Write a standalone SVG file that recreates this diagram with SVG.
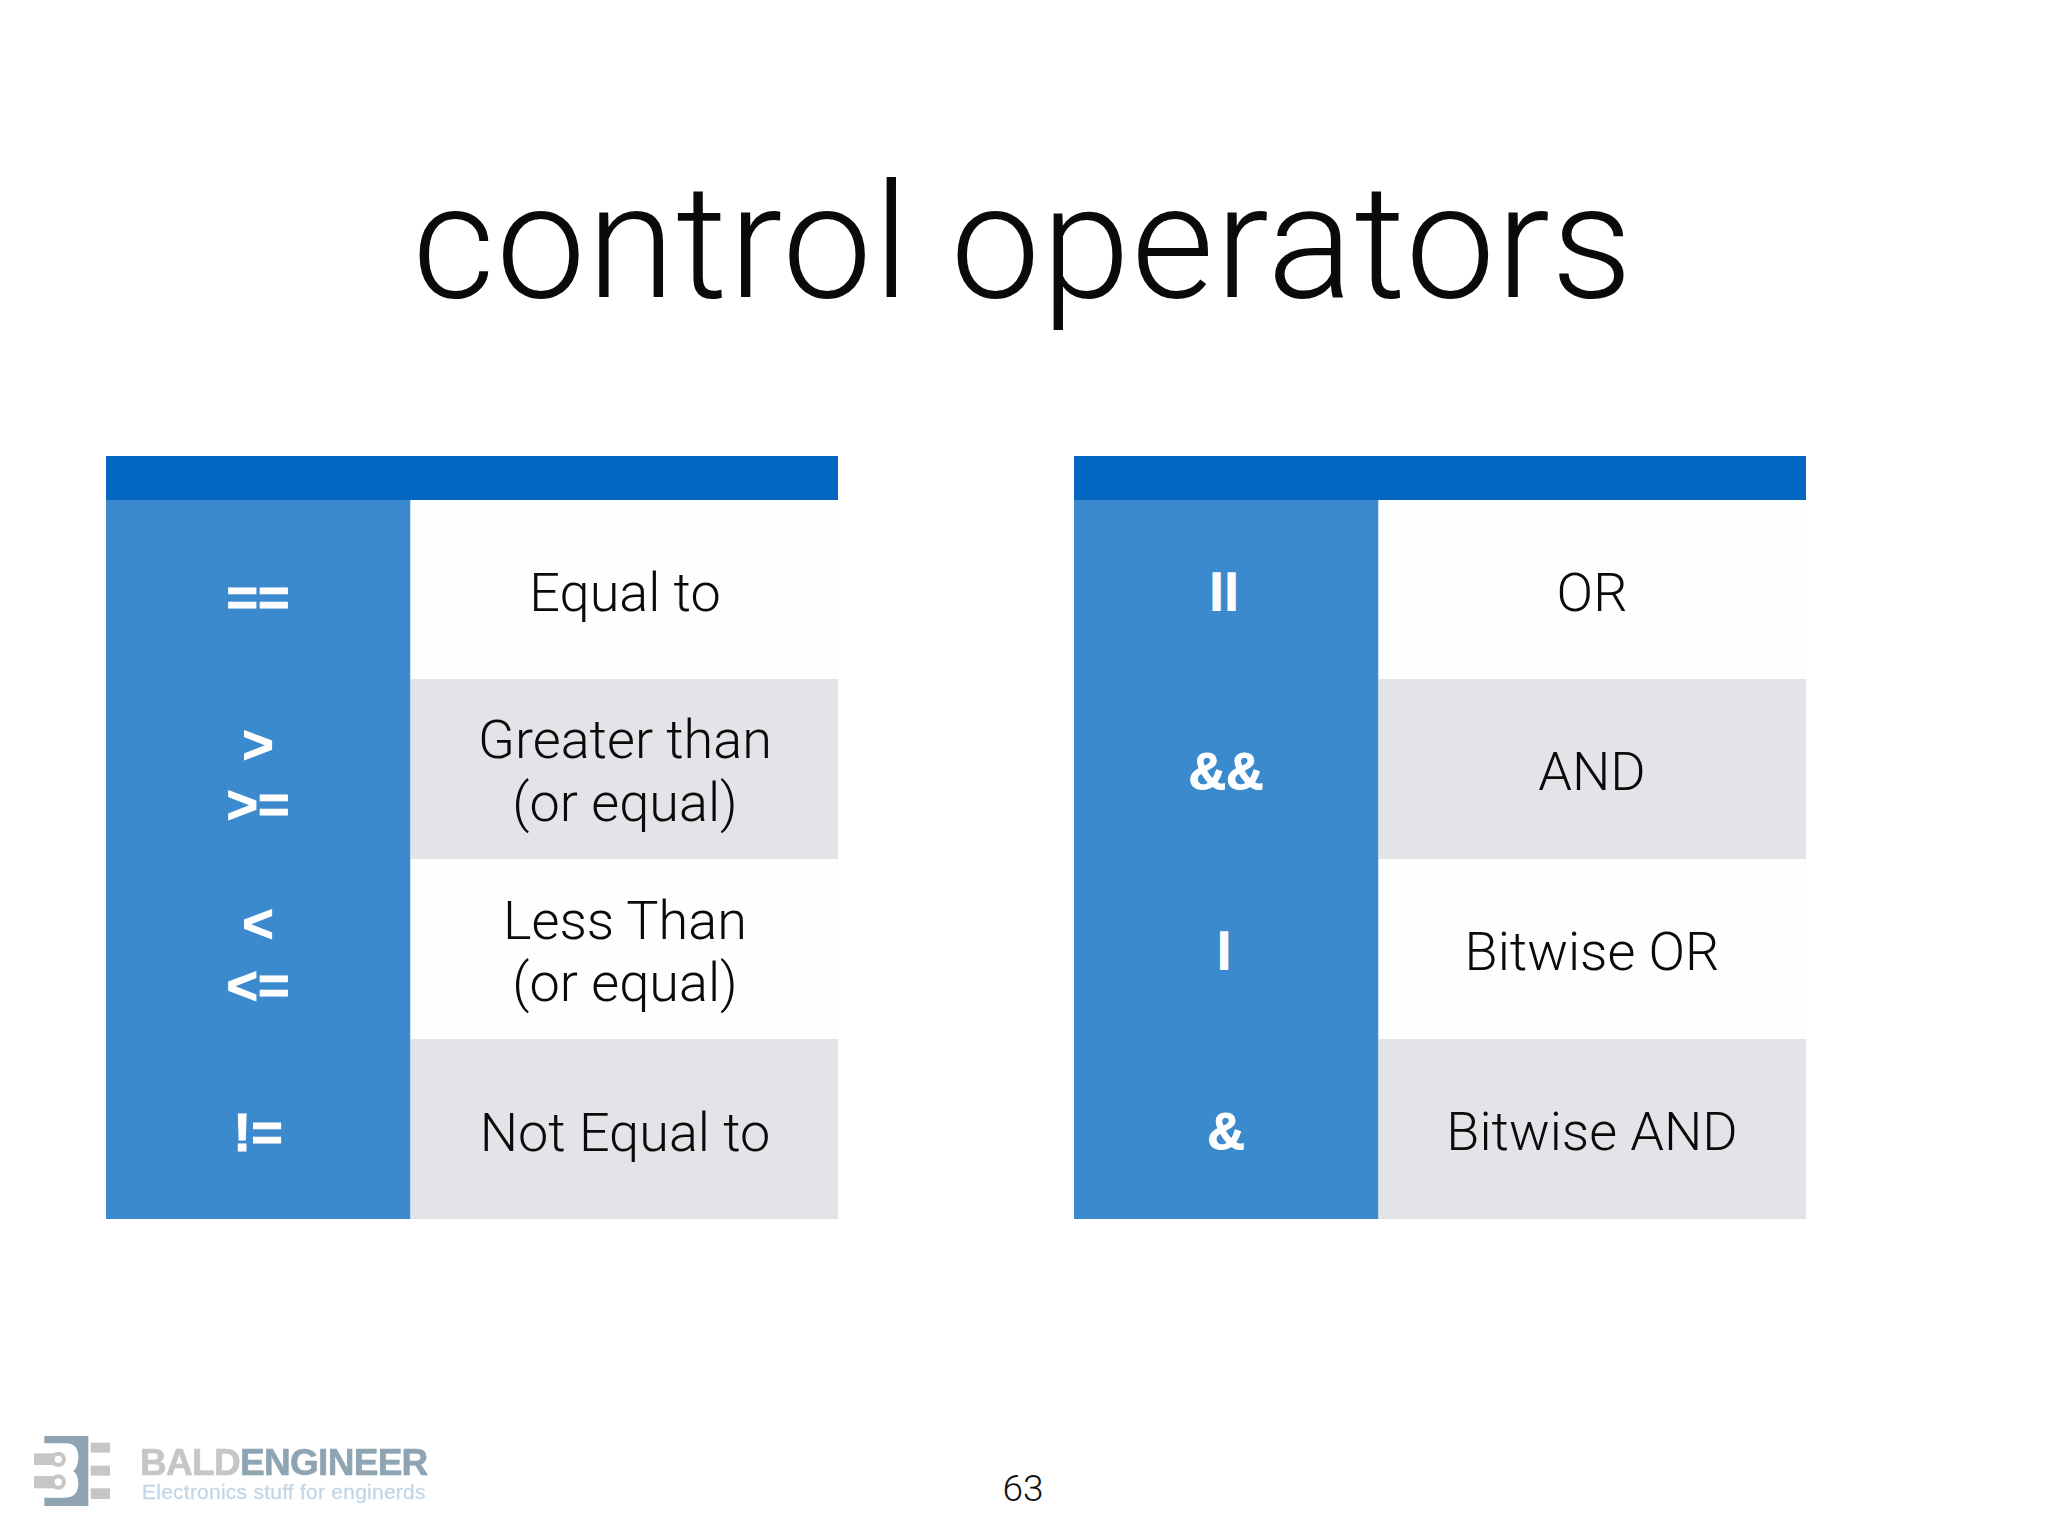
<svg xmlns="http://www.w3.org/2000/svg" width="2048" height="1536" viewBox="0 0 2048 1536">
<style>
.hd{fill:#0366c1}.col{fill:#3b8ace}.gr{fill:#e3e4e7}.wh{fill:#fdfefe}
.t{font-family:Roboto,"Liberation Sans",sans-serif;font-weight:300;font-size:54px;fill:#0a0a0a;text-anchor:middle}
.s{font-family:"Liberation Sans",Arial,sans-serif;font-weight:700;font-size:54px;fill:#fff;stroke:#fff;stroke-width:1;text-anchor:middle}
.b{font-size:36px;stroke-width:3.5;letter-spacing:5px}
.a{font-size:52px}
</style>
<defs><filter id="soft" x="-5%" y="-5%" width="110%" height="110%"><feGaussianBlur stdDeviation="0.6"/></filter></defs>
<rect width="2048" height="1536" fill="#fff"/>
<text id="title" x="1023" y="297" font-family="Roboto,'Liberation Sans',sans-serif" font-weight="300" font-size="160" letter-spacing="1.2" fill="#0a0a0a" text-anchor="middle">control operators</text>
<g id="table-left">
<rect class="hd" x="106" y="456" width="732" height="44"/>
<rect class="col" x="106" y="500" width="304.500" height="719"/>
<rect class="wh" x="410.500" y="500" width="427.500" height="179"/>
<rect class="gr" x="410.500" y="679" width="427.500" height="180"/>
<rect class="wh" x="410.500" y="859" width="427.500" height="180"/>
<rect class="gr" x="410.500" y="1039" width="427.500" height="180"/>
<text class="s" x="258" y="616">==</text>
<text class="s" x="258" y="763">&gt;</text>
<text class="s" x="258" y="823">&gt;=</text>
<text class="s" x="258" y="942">&lt;</text>
<text class="s" x="258" y="1004">&lt;=</text>
<text class="s" x="258" y="1151">!=</text>
<text class="t" x="625" y="611">Equal to</text>
<text class="t" x="625" y="758">Greater than</text>
<text class="t" x="625" y="820.500">(or equal)</text>
<text class="t" x="625" y="938.500">Less Than</text>
<text class="t" x="625" y="1000.500">(or equal)</text>
<text class="t" x="625" y="1151">Not Equal to</text>
</g>
<g id="table-right">
<rect class="hd" x="1074" y="456" width="732" height="44"/>
<rect class="col" x="1074" y="500" width="304.500" height="719"/>
<rect class="wh" x="1378.500" y="500" width="427.500" height="179"/>
<rect class="gr" x="1378.500" y="679" width="427.500" height="180"/>
<rect class="wh" x="1378.500" y="859" width="427.500" height="180"/>
<rect class="gr" x="1378.500" y="1039" width="427.500" height="180"/>
<text class="s b" x="1226.500" y="600.500">||</text>
<text class="s a" x="1226" y="789">&amp;&amp;</text>
<text class="s b" x="1226.500" y="960">|</text>
<text class="s a" x="1226" y="1149">&amp;</text>
<text class="t" x="1592" y="611">OR</text>
<text class="t" x="1592" y="790">AND</text>
<text class="t" x="1592" y="970">Bitwise OR</text>
<text class="t" x="1592" y="1150">Bitwise AND</text>
</g>
<g id="logo" filter="url(#soft)">
<g transform="translate(0,1400) scale(0.3333)">
<path fill="#8fa4b3" d="M133 108H265V318H133V293H195Q235 293 235 250Q235 225 220 213Q235 200 235 170Q235 130 195 130H133Z"/>
<g fill="#c6c6c6">
<rect x="272" y="128" width="58" height="30"/><rect x="272" y="197" width="58" height="30"/><rect x="272" y="265" width="58" height="32"/>
<rect x="102" y="160" width="60" height="35"/><rect x="102" y="228" width="60" height="37"/>
<circle cx="175" cy="178" r="17" fill="none" stroke="#c6c6c6" stroke-width="12"/><circle cx="175" cy="246" r="17" fill="none" stroke="#c6c6c6" stroke-width="12"/>
</g></g>
<text x="140" y="1475" font-family="'Liberation Sans',sans-serif" font-weight="700" font-size="37" letter-spacing="-0.7" fill="#c6c6c6" stroke="#c6c6c6" stroke-width="0.6">BALD<tspan fill="#8fa4b3" stroke="#8fa4b3">ENGINEER</tspan></text>
<text x="142" y="1499" font-family="'Liberation Sans',sans-serif" font-size="21" letter-spacing="0.24" fill="#c2d6e6" stroke="#c2d6e6" stroke-width="0.3">Electronics stuff for enginerds</text>
</g>
<text id="page-number" x="1023" y="1501" font-family="Roboto,'Liberation Sans',sans-serif" font-weight="300" font-size="37" fill="#111" text-anchor="middle">63</text>
</svg>
